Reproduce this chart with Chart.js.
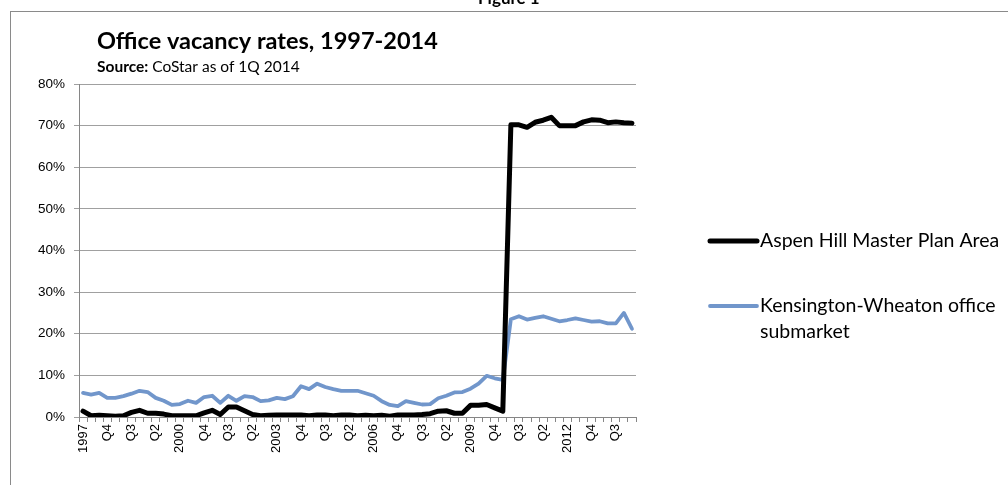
<!DOCTYPE html>
<html>
<head>
<meta charset="utf-8">
<title>Office vacancy rates, 1997-2014</title>
<script src="https://cdn.jsdelivr.net/npm/chart.js@4.4.1/dist/chart.umd.min.js"></script>
<style>
  html, body { margin: 0; padding: 0; background: #fff; }
  #wrap { position: relative; width: 1008px; height: 485px; overflow: hidden; }
  canvas { display: block; }
</style>
</head>
<body>
<div id="wrap"><canvas id="chart" width="1008" height="485"></canvas></div>
<script>
// Quarterly categories, 1997 Q1 through 2014 Q1 (year shown on Q1)
const years = [1997, 1998, 1999, 2000, 2001, 2002, 2003, 2004, 2005, 2006, 2007, 2008, 2009, 2010, 2011, 2012, 2013, 2014];
const quarterNames = ['Q2', 'Q3', 'Q4'];
const categories = [];
years.forEach(y => {
  categories.push(String(y));
  if (y < 2014) quarterNames.forEach(q => categories.push(q));
});
const labelEvery = 3;

// Vacancy rates, percent
const aspenHill = [
  1.4, 0.3, 0.4, 0.3, 0.2, 0.3, 1.1, 1.6, 0.9, 0.9,
  0.7, 0.3, 0.3, 0.3, 0.3, 1.0, 1.6, 0.6, 2.4, 2.4,
  1.5, 0.6, 0.3, 0.4, 0.5, 0.5, 0.5, 0.5, 0.3, 0.5,
  0.5, 0.3, 0.5, 0.5, 0.3, 0.4, 0.3, 0.4, 0.2, 0.5,
  0.5, 0.5, 0.6, 0.8, 1.4, 1.5, 0.9, 0.9, 2.8, 2.8,
  3.0, 2.2, 1.4, 70.2, 70.2, 69.6, 70.8, 71.3, 72.0, 70.0,
  70.0, 70.0, 70.9, 71.4, 71.3, 70.7, 70.9, 70.7, 70.6
];
const kensingtonWheaton = [
  5.8, 5.4, 5.8, 4.6, 4.6, 5.0, 5.6, 6.3, 6.0, 4.6,
  3.9, 2.9, 3.1, 3.9, 3.4, 4.8, 5.1, 3.4, 5.1, 3.9,
  5.0, 4.8, 3.8, 4.0, 4.6, 4.3, 5.0, 7.4, 6.7, 8.0,
  7.2, 6.7, 6.3, 6.3, 6.3, 5.7, 5.1, 3.8, 2.9, 2.6,
  3.8, 3.4, 3.0, 3.1, 4.5, 5.1, 5.9, 6.0, 6.8, 8.0,
  9.9, 9.3, 8.9, 23.5, 24.2, 23.4, 23.8, 24.2, 23.6, 23.0,
  23.3, 23.7, 23.3, 22.9, 23.0, 22.5, 22.5, 25.0, 21.2
];

const seriesNames = ['Aspen Hill Master Plan Area', 'Kensington-Wheaton office submarket'];
const seriesColors = ['#000000', '#7196CB'];
const yTicks = { min: 0, max: 80, step: 10 };

const titleText = 'Office vacancy rates, 1997-2014';
const sourceLabel = 'Source:';
const sourceText = ' CoStar as of 1Q 2014';
const figureText = 'Figure 1';

const bodyFont = 'Lato, "Open Sans", sans-serif';
const axisFont = '"Liberation Sans", Arial, sans-serif';

// Frame, figure caption, title and source line
const headerPlugin = {
  id: 'header',
  beforeDraw(chart) {
    const ctx = chart.ctx;
    ctx.save();
    ctx.fillStyle = '#ffffff';
    ctx.fillRect(0, 0, chart.width, chart.height);
    ctx.strokeStyle = '#8a8a8a';
    ctx.lineWidth = 1;
    ctx.strokeRect(10.5, 11.5, chart.width + 20, chart.height + 20);

    ctx.fillStyle = '#000';
    ctx.textBaseline = 'alphabetic';
    ctx.font = 'bold 17px ' + bodyFont;
    ctx.fillText(figureText, 478, 4);

    ctx.font = 'bold 23.5px ' + bodyFont;
    ctx.fillText(titleText, 97, 49);

    ctx.font = 'bold 15.5px ' + bodyFont;
    ctx.fillText(sourceLabel, 97, 72);
    const w = ctx.measureText(sourceLabel).width;
    ctx.font = '15.5px ' + bodyFont;
    ctx.fillText(sourceText, 97 + w, 72);
    ctx.restore();
  }
};

// Legend on the right, wrapping long names
const sideLegendPlugin = {
  id: 'sideLegend',
  afterDraw(chart) {
    const ctx = chart.ctx;
    const x0 = 710, x1 = 757, tx = 760, maxW = 246, lineH = 26;
    const rows = [241, 306];
    ctx.save();
    ctx.font = '19.5px ' + bodyFont;
    ctx.textBaseline = 'middle';
    chart.data.datasets.forEach((ds, i) => {
      const y = rows[i];
      ctx.strokeStyle = ds.borderColor;
      ctx.lineWidth = ds.borderWidth;
      ctx.lineCap = 'round';
      ctx.beginPath();
      ctx.moveTo(x0, y);
      ctx.lineTo(x1, y);
      ctx.stroke();
      const words = ds.label.split(' ');
      const lines = [];
      let cur = '';
      words.forEach(wd => {
        const t = cur ? cur + ' ' + wd : wd;
        if (ctx.measureText(t).width > maxW && cur) { lines.push(cur); cur = wd; }
        else cur = t;
      });
      lines.push(cur);
      ctx.fillStyle = '#000';
      lines.forEach((ln, k) => ctx.fillText(ln, tx, y + k * lineH));
    });
    ctx.restore();
  }
};

new Chart(document.getElementById('chart'), {
  type: 'line',
  data: {
    labels: categories,
    datasets: [
      {
        label: seriesNames[0],
        data: aspenHill,
        borderColor: seriesColors[0],
        borderWidth: 5,
        pointRadius: 0,
        tension: 0,
        borderJoinStyle: 'round',
        borderCapStyle: 'round'
      },
      {
        label: seriesNames[1],
        data: kensingtonWheaton,
        borderColor: seriesColors[1],
        borderWidth: 3.8,
        pointRadius: 0,
        tension: 0,
        borderJoinStyle: 'round',
        borderCapStyle: 'round'
      }
    ]
  },
  options: {
    responsive: false,
    animation: false,
    devicePixelRatio: 1,
    layout: { padding: { left: 0, top: 84, right: 372, bottom: 0 } },
    plugins: {
      legend: { display: false },
      tooltip: { enabled: false },
      title: { display: false }
    },
    scales: {
      x: {
        type: 'category',
        offset: true,
        grid: {
          offset: true,
          drawOnChartArea: false,
          drawTicks: true,
          tickLength: 5,
          color: '#868686'
        },
        border: { color: '#868686', width: 1 },
        ticks: {
          autoSkip: false,
          minRotation: 90,
          maxRotation: 90,
          padding: 2,
          color: '#000',
          font: { family: axisFont, size: 13 },
          callback: function (value, index) {
            return index % labelEvery === 0 ? this.getLabelForValue(value) : '';
          }
        },
        afterFit(scale) { scale.height = 68; }
      },
      y: {
        min: yTicks.min,
        max: yTicks.max,
        grid: {
          color: '#a0a0a0',
          lineWidth: 1,
          drawTicks: true,
          tickLength: 5
        },
        border: { color: '#868686', width: 1 },
        ticks: {
          stepSize: yTicks.step,
          padding: 9,
          color: '#000',
          font: { family: axisFont, size: 13.5 },
          callback: v => v + '%'
        },
        afterFit(scale) { scale.width = 79; }
      }
    }
  },
  plugins: [headerPlugin, sideLegendPlugin]
});
</script>
</body>
</html>
